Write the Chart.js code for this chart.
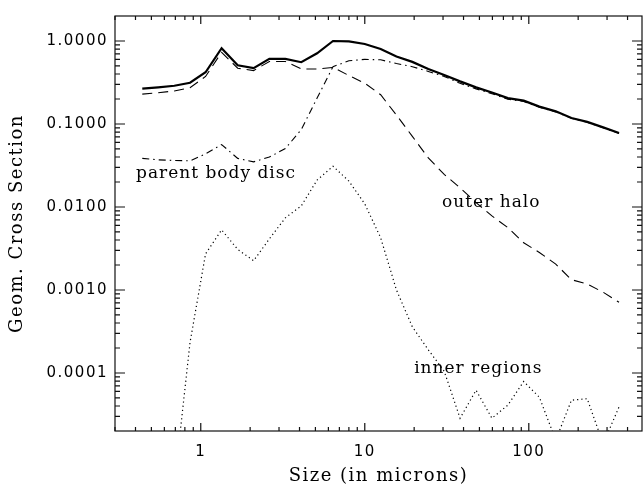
<!DOCTYPE html>
<html>
<head>
<meta charset="utf-8">
<script src="https://cdn.jsdelivr.net/npm/chart.js@4.4.1/dist/chart.umd.min.js"></script>
<style>
  html, body { margin: 0; padding: 0; background: #fff; }
  canvas { display: block; }
</style>
</head>
<body>
<canvas id="grafico" width="643" height="489"></canvas>
<script>
// grain sizes in microns
const sizes = [0.44, 0.55, 0.69, 0.86, 1.07, 1.34, 1.68, 2.10, 2.62, 3.28, 4.10, 5.12, 6.40, 8.00, 10.0, 12.5,
  15.6, 19.5, 24.4, 30.5, 38.1, 47.7, 59.6, 74.5, 93.1, 116, 146, 182, 227, 284, 355];

// geometric cross section per component
const total = [0.266, 0.276, 0.289, 0.314, 0.42, 0.82, 0.51, 0.47, 0.61, 0.61, 0.555, 0.71, 1.0, 0.99, 0.92, 0.80,
  0.65, 0.56, 0.46, 0.39, 0.326, 0.276, 0.24, 0.205, 0.191, 0.162, 0.142, 0.118, 0.106, 0.091, 0.078];
const outerHalo = [0.229, 0.238, 0.25, 0.273, 0.374, 0.73, 0.47, 0.44, 0.566, 0.566, 0.46, 0.46, 0.48, 0.384, 0.31, 0.225,
  0.128, 0.071, 0.039, 0.0247, 0.017, 0.0113, 0.0078, 0.00565, 0.0037, 0.00283, 0.00205, 0.00133, 0.00118, 0.00094, 0.00071];
const parentDisc = [0.0385, 0.037, 0.0363, 0.036, 0.0436, 0.0565, 0.0385, 0.035, 0.040, 0.0506, 0.0856, 0.205, 0.49, 0.577, 0.60, 0.593,
  0.535, 0.49, 0.43, 0.374, 0.309, 0.265, 0.232, 0.199, 0.187, 0.159, 0.140, 0.117, 0.105, 0.090, 0.077];
const innerRegions = [1e-6, 1.5e-6, 4.4e-6, 2.33e-4, 2.73e-3, 5.3e-3, 3.08e-3, 2.25e-3, 4.13e-3, 7.4e-3, 0.0103, 0.0211, 0.031, 0.0205, 0.0109, 4.25e-3,
  1.0e-3, 3.6e-4, 1.9e-4, 1.05e-4, 2.85e-5, 6.2e-5, 2.85e-5, 4.1e-5, 7.9e-5, 5.1e-5, 1.55e-5, 4.7e-5, 4.9e-5, 1.4e-5, 3.9e-5];

const xTickLabels = [1, 10, 100];
const yTickLabels = [0.0001, 0.001, 0.01, 0.1, 1];

const notes = [
  { text: 'parent body disc', x: 0.403, y: 0.025 },
  { text: 'outer halo', x: 29.6, y: 0.0112 },
  { text: 'inner regions', x: 20.0, y: 1.14e-4 }
];

const near = (a, b) => Math.abs(a / b - 1) < 1e-6;

// 1..9 x 10^n tick values inside the range
const logTicks = (min, max) => {
  const out = [];
  for (let e = Math.floor(Math.log10(min)); e <= Math.ceil(Math.log10(max)); e++) {
    for (let m = 1; m <= 9; m++) {
      const v = m * Math.pow(10, e);
      if (v > min && v < max) out.push({ value: v, major: m === 1 });
    }
  }
  return out;
};

const series = (vals) => sizes.map((s, i) => ({ x: s, y: vals[i] }));

// IDL style box with inward ticks on all four sides, plus the curve labels
const boxTicks = {
  id: 'boxTicks',
  beforeDraw(chart) {
    chart.ctx.letterSpacing = '1.5px';
  },
  afterDatasetsDraw(chart) {
    const { ctx, chartArea: { left, right, top, bottom } } = chart;
    const xs = chart.scales.x, ys = chart.scales.y;
    ctx.save();
    ctx.strokeStyle = '#111';
    ctx.lineWidth = 1.2;
    ctx.strokeRect(left, top, right - left, bottom - top);
    ctx.beginPath();
    xs.ticks.forEach(t => {
      const px = xs.getPixelForValue(t.value);
      const len = t.major ? 8 : 4;
      ctx.moveTo(px, bottom); ctx.lineTo(px, bottom - len);
      ctx.moveTo(px, top); ctx.lineTo(px, top + len);
    });
    ys.ticks.forEach(t => {
      const py = ys.getPixelForValue(t.value);
      const len = t.major ? 10 : 5;
      ctx.moveTo(left, py); ctx.lineTo(left + len, py);
      ctx.moveTo(right, py); ctx.lineTo(right - len, py);
    });
    ctx.stroke();

    ctx.fillStyle = '#000';
    ctx.font = '17px "DejaVu Serif"';
    ctx.letterSpacing = '1px';
    ctx.textAlign = 'left';
    ctx.textBaseline = 'middle';
    notes.forEach(n => {
      ctx.fillText(n.text, xs.getPixelForValue(n.x), ys.getPixelForValue(n.y));
    });
    ctx.restore();
  }
};

const lineStyle = (data, width, dash) => ({
  data: series(data),
  borderColor: '#000',
  borderWidth: width,
  borderDash: dash,
  pointRadius: 0,
  tension: 0,
  fill: false
});

new Chart(document.getElementById('grafico'), {
  type: 'line',
  data: {
    datasets: [
      lineStyle(total, 2.2, []),
      lineStyle(outerHalo, 1.1, [10, 6]),
      lineStyle(parentDisc, 1.1, [7, 4, 1.5, 4]),
      lineStyle(innerRegions, 1.2, [1.2, 3])
    ]
  },
  options: {
    responsive: false,
    animation: false,
    devicePixelRatio: 1,
    layout: { padding: { top: 14, right: 1, left: 0, bottom: 0 } },
    plugins: { legend: { display: false }, tooltip: { enabled: false } },
    scales: {
      x: {
        type: 'logarithmic',
        min: 0.3,
        max: 490,
        afterBuildTicks: (scale) => { scale.ticks = logTicks(scale.min, scale.max); },
        afterFit: (scale) => { scale.height = 58; },
        grid: { display: false, drawTicks: false },
        border: { display: false },
        ticks: {
          autoSkip: false,
          maxRotation: 0,
          padding: 12.5,
          color: '#000',
          font: { family: 'DejaVu Sans', size: 15 },
          callback: (v) => {
            const t = xTickLabels.find(l => near(l, v));
            return t === undefined ? '' : String(t);
          }
        },
        title: {
          display: true,
          text: 'Size (in microns)',
          color: '#000',
          font: { family: 'DejaVu Serif', size: 18 },
          padding: { top: 0, bottom: 1.5 }
        }
      },
      y: {
        type: 'logarithmic',
        min: 2e-5,
        max: 2,
        afterBuildTicks: (scale) => { scale.ticks = logTicks(scale.min, scale.max); },
        afterFit: (scale) => { scale.width = 115; },
        grid: { display: false, drawTicks: false },
        border: { display: false },
        ticks: {
          autoSkip: false,
          padding: 7,
          color: '#000',
          font: { family: 'DejaVu Sans', size: 15 },
          callback: (v) => {
            const t = yTickLabels.find(l => near(l, v));
            return t === undefined ? '' : t.toFixed(4);
          }
        },
        title: {
          display: true,
          text: 'Geom. Cross Section',
          color: '#000',
          font: { family: 'DejaVu Serif', size: 18 },
          padding: { top: 7, bottom: 0 }
        }
      }
    }
  },
  plugins: [boxTicks]
});
</script>
</body>
</html>
